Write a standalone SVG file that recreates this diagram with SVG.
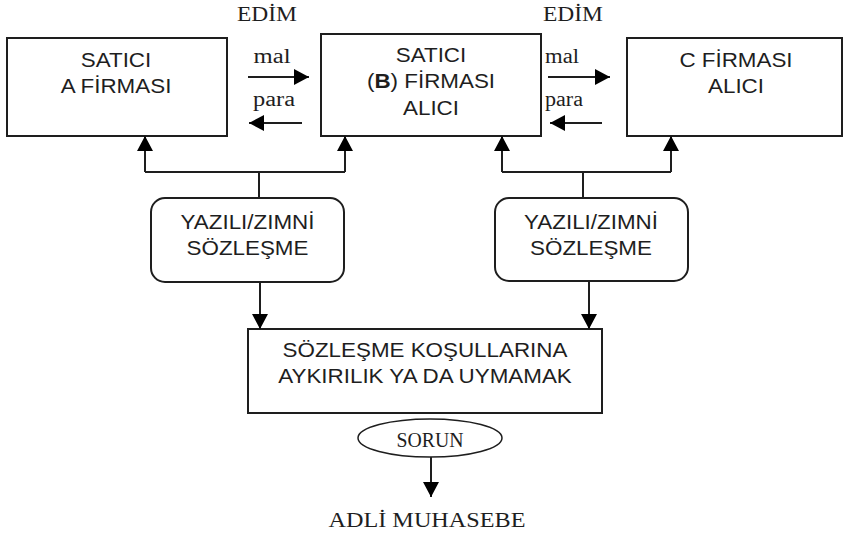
<svg xmlns="http://www.w3.org/2000/svg" width="843" height="536" viewBox="0 0 843 536">
<style>
.box{fill:#fff;stroke:#1e1e1e;stroke-width:2}
.sans{font-family:"Liberation Sans",Arial,sans-serif;font-size:20px;fill:#1e1e1e;text-anchor:middle}
.serif{font-family:"Liberation Serif","Times New Roman",serif;font-size:20px;fill:#1e1e1e}
.mid{text-anchor:middle}
.ln{fill:none;stroke:#1e1e1e;stroke-width:2}
</style>
<defs>
<marker id="ah" markerUnits="userSpaceOnUse" markerWidth="16" markerHeight="16" refX="15" refY="8" orient="auto">
<path d="M0,0 L15,8 L0,16 z" fill="#000"/>
</marker>
</defs>
<rect width="843" height="536" fill="#fff"/>

<g id="edim-labels">
<text class="serif mid" x="267" y="21" textLength="60" lengthAdjust="spacingAndGlyphs">EDİM</text>
<text class="serif mid" x="573" y="21" textLength="60" lengthAdjust="spacingAndGlyphs">EDİM</text>
<text class="serif mid" x="272" y="63" textLength="37" lengthAdjust="spacingAndGlyphs">mal</text>
<text class="serif mid" x="274" y="106" textLength="42" lengthAdjust="spacingAndGlyphs">para</text>
<text class="serif" x="545" y="63" textLength="34" lengthAdjust="spacingAndGlyphs">mal</text>
<text class="serif" x="545" y="106" textLength="38" lengthAdjust="spacingAndGlyphs">para</text>
</g>

<g id="nodeA">
<rect class="box" x="7" y="38" width="220" height="98"/>
<text class="sans" transform="translate(116,67) scale(1.12,1)">SATICI</text>
<text class="sans" transform="translate(116,93) scale(1.12,1)">A FİRMASI</text>
</g>

<g id="nodeB">
<rect class="box" x="321" y="34" width="220" height="102"/>
<text class="sans" transform="translate(431,62) scale(1.12,1)">SATICI</text>
<text class="sans" transform="translate(431,88) scale(1.12,1)">(<tspan font-weight="bold">B</tspan>) FİRMASI</text>
<text class="sans" transform="translate(431,115) scale(1.12,1)">ALICI</text>
</g>

<g id="nodeC">
<rect class="box" x="627" y="38" width="215" height="98"/>
<text class="sans" transform="translate(736,67) scale(1.12,1)">C FİRMASI</text>
<text class="sans" transform="translate(736,93) scale(1.12,1)">ALICI</text>
</g>

<g id="sozlesme1">
<rect class="box" x="151" y="198" width="193" height="84" rx="14"/>
<text class="sans" transform="translate(247.5,229) scale(1.12,1)">YAZILI/ZIMNİ</text>
<text class="sans" transform="translate(247.5,255) scale(1.12,1)">SÖZLEŞME</text>
</g>

<g id="sozlesme2">
<rect class="box" x="495" y="198" width="193" height="83" rx="14"/>
<text class="sans" transform="translate(591,229) scale(1.12,1)">YAZILI/ZIMNİ</text>
<text class="sans" transform="translate(591,255) scale(1.12,1)">SÖZLEŞME</text>
</g>

<g id="kosul">
<rect class="box" x="248" y="329" width="354" height="84"/>
<text class="sans" transform="translate(425,357) scale(1.12,1)">SÖZLEŞME KOŞULLARINA</text>
<text class="sans" transform="translate(425,383) scale(1.12,1)">AYKIRILIK YA DA UYMAMAK</text>
</g>

<g id="sorun">
<ellipse cx="430" cy="438" rx="72" ry="19" fill="#fff" stroke="#1e1e1e" stroke-width="1.5"/>
<text class="serif mid" x="430" y="447" textLength="67" lengthAdjust="spacingAndGlyphs">SORUN</text>
</g>

<g id="adli">
<text class="serif mid" x="427" y="527" textLength="197" lengthAdjust="spacingAndGlyphs">ADLİ MUHASEBE</text>
</g>

<g id="connectors">
<path class="ln" d="M248,77 H309" marker-end="url(#ah)"/>
<path class="ln" d="M302,123 H249" marker-end="url(#ah)"/>
<path class="ln" d="M548,77 H610" marker-end="url(#ah)"/>
<path class="ln" d="M602,123 H550" marker-end="url(#ah)"/>
<path class="ln" d="M259,198 V172 M145,172 H345"/>
<path class="ln" d="M145,172 V136" marker-end="url(#ah)"/>
<path class="ln" d="M345,172 V136" marker-end="url(#ah)"/>
<path class="ln" d="M583,198 V172 M502,172 H671"/>
<path class="ln" d="M502,172 V136" marker-end="url(#ah)"/>
<path class="ln" d="M671,172 V136" marker-end="url(#ah)"/>
<path class="ln" d="M260,282 V329" marker-end="url(#ah)"/>
<path class="ln" d="M589,281 V329" marker-end="url(#ah)"/>
<path class="ln" d="M431,457 V497" marker-end="url(#ah)"/>
</g>
</svg>
